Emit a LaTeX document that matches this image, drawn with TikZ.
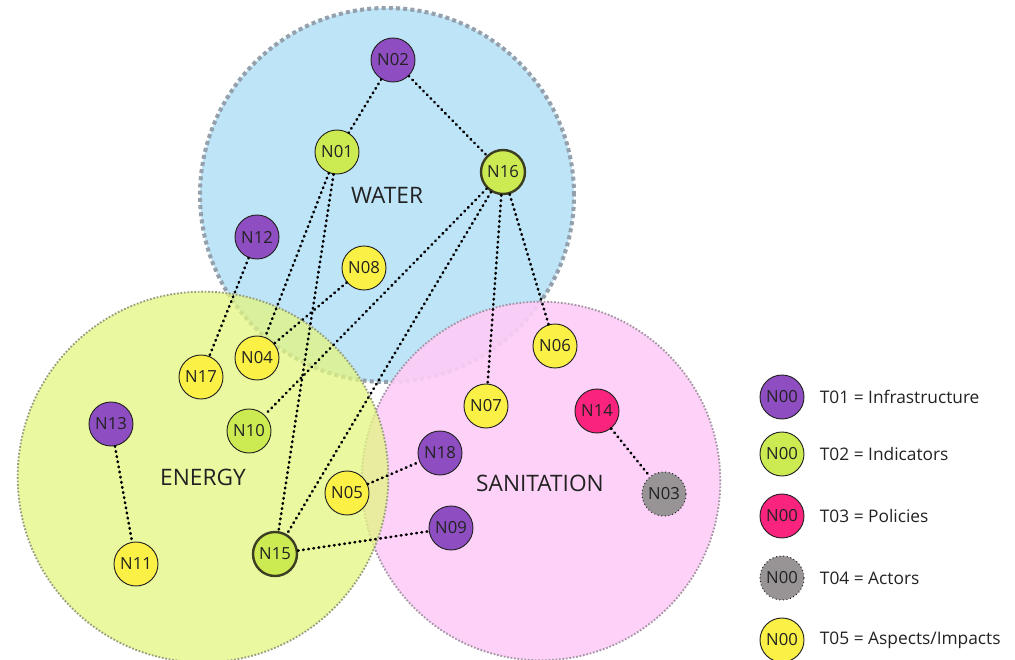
\documentclass[tikz,border=0pt]{standalone}
\usepackage{fontspec}
\setmainfont{Open Sans}
\usetikzlibrary{positioning}
\definecolor{infra}{RGB}{142,78,194}
\definecolor{indic}{RGB}{204,234,82}
\definecolor{polic}{RGB}{250,36,126}
\definecolor{actor}{RGB}{152,148,150}
\definecolor{aspect}{RGB}{250,240,70}
\definecolor{waterbg}{RGB}{190,228,247}
\definecolor{energybg}{RGB}{227,246,128}
\definecolor{sanitbg}{RGB}{253,205,247}
\definecolor{inkc}{RGB}{34,34,34}

\begin{document}
\begin{tikzpicture}[x=0.75pt, y=-0.75pt,
  nd/.style={circle, draw=inkc, line width=0.7pt, minimum size=33pt, inner sep=0pt,
    text=inkc, font=\fontsize{12.5}{12.5}\selectfont},
  hub/.style={nd, line width=1.8pt, draw={rgb,255:red,60;green,62;blue,35}},
  t01/.style={nd, fill=infra},
  t02/.style={nd, fill=indic},
  t03/.style={nd, fill=polic},
  t04/.style={nd, fill=actor, dotted, line width=0.8pt},
  t05/.style={nd, fill=aspect},
  area/.style={text=inkc, font=\fontsize{17}{17}\selectfont},
  keytext/.style={right=8pt, text=inkc, font=\fontsize{13}{13}\selectfont},
  link/.style={draw=black, line width=2pt, line cap=round, dash pattern=on 0.5pt off 3.4pt}]
\useasboundingbox (0,0) rectangle (1015,660);
\clip (0,0) rectangle (1015,660);

% Areas
\fill[waterbg] (387,195) circle (140.25pt);
\draw[draw={rgb,255:red,148;green,160;blue,172}, line width=3pt, dash pattern=on 3pt off 2.4pt] (387,195) circle (140.25pt);
\fill[sanitbg, fill opacity=0.92] (541,481) circle (134.5pt);
\draw[draw={rgb,255:red,165;green,150;blue,165}, line width=1.4pt, dash pattern=on 1.3pt off 1.3pt] (541,481) circle (134.5pt);
\fill[energybg, fill opacity=0.75] (203,477) circle (139pt);
\draw[draw={rgb,255:red,150;green,158;blue,125}, line width=1.4pt, dash pattern=on 1.3pt off 1.3pt] (203,477) circle (139pt);

\node[area] (water) at (387,195) {WATER};
\node[area] (energy) at (203,477) {ENERGY};
\node[area] (sanit) at (540,483) {SANITATION};

% Nodos
\node[t01] (n02) at (393,60) {N02};
\node[t02] (n01) at (337,152) {N01};
\node[t02, hub] (n16) at (503,172) {N16};
\node[t01] (n12) at (257,237) {N12};
\node[t05] (n08) at (364,268) {N08};
\node[t05] (n17) at (201,377) {N17};
\node[t05] (n04) at (257,358) {N04};
\node[t05] (n06) at (555,346) {N06};
\node[t05] (n07) at (486,406) {N07};
\node[t03] (n14) at (597,411) {N14};
\node[t01] (n13) at (111,424) {N13};
\node[t02] (n10) at (249,431) {N10};
\node[t01] (n18) at (440,453) {N18};
\node[t05] (n05) at (347,493) {N05};
\node[t04] (n03) at (664,494) {N03};
\node[t01] (n09) at (451,528) {N09};
\node[t05] (n11) at (136,564) {N11};
\node[t02, hub] (n15) at (275,554) {N15};

% Relaciones
\path[link]
(n02) edge (n01)
    edge (n16)
(n01) edge (n04)
    edge (n15)
(n16) edge (n10)
    edge (n15)
    edge (n07)
    edge (n06)
(n12) edge (n17)
(n08) edge (n04)
(n05) edge (n18)
(n15) edge (n09)
(n14) edge (n03)
(n13) edge (n11);

% Leyenda
\node[t01] (k1) at (782,397) {N00};
\node[keytext] at (k1.east) {T01 = Infrastructure};
\node[t02] (k2) at (782,454) {N00};
\node[keytext] at (k2.east) {T02 = Indicators};
\node[t03] (k3) at (782,516) {N00};
\node[keytext] at (k3.east) {T03 = Policies};
\node[t04] (k4) at (782,578) {N00};
\node[keytext] at (k4.east) {T04 = Actors};
\node[t05] (k5) at (782,640) {N00};
\node[keytext] at (k5.east) {T05 = Aspects/Impacts};
\end{tikzpicture}
\end{document}
